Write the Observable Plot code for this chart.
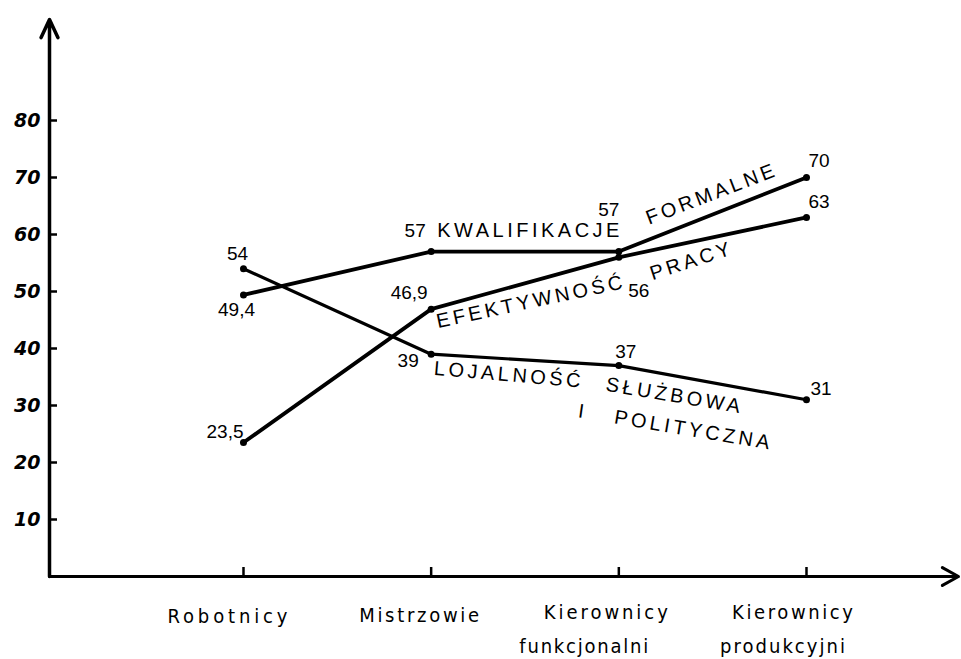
<!DOCTYPE html>
<html>
<head>
<meta charset="utf-8">
<script src="https://cdn.jsdelivr.net/npm/d3@7"></script>
<script src="https://cdn.jsdelivr.net/npm/@observablehq/plot@0.6"></script>
<style>
  html, body { margin: 0; padding: 0; background: #fff; }
  svg { display: block; }
</style>
</head>
<body>
<script>
// ---------- data ----------
const categoriesLine1 = ["Robotnicy", "Mistrzowie", "Kierownicy", "Kierownicy"];
const categoriesLine2 = ["", "", "funkcjonalni", "produkcyjni"];
const kwalifikacje = [49.4, 57, 57, 70];   // KWALIFIKACJE FORMALNE
const efektywnosc  = [23.5, 46.9, 56, 63]; // EFEKTYWNOŚĆ PRACY
const lojalnosc    = [54, 39, 37, 31];     // LOJALNOŚĆ SŁUŻBOWA I POLITYCZNA
const yTicks = [10, 20, 30, 40, 50, 60, 70, 80];

// ---------- layout / style (not data) ----------
const W = 961, H = 659;
const xDomain = [-1.0337, 3.81], xRange = [49, 958];
const yDomain = [0, 100], yRange = [576, 6];
const pxPerX = (xRange[1] - xRange[0]) / (xDomain[1] - xDomain[0]);
const pxPerY = (yRange[0] - yRange[1]) / (yDomain[1] - yDomain[0]);
const axisX = xDomain[0];

const series = [
  {key: "kwal", values: kwalifikacje, width: 3.8,
   offsets: [{dx: -7, dy: 15, a: "middle"}, {dx: -16, dy: -21, a: "middle"}, {dx: -10, dy: -42, a: "middle"}, {dx: 2, dy: -17, a: "start"}]},
  {key: "efek", values: efektywnosc, width: 3.8,
   offsets: [{dx: 0, dy: -11, a: "end"}, {dx: -22, dy: -16, a: "middle"}, {dx: 20, dy: 34, a: "middle"}, {dx: 2, dy: -15, a: "start"}]},
  {key: "loj", values: lojalnosc, width: 3.2,
   offsets: [{dx: -6, dy: -15, a: "middle"}, {dx: -23, dy: 7, a: "middle"}, {dx: 7, dy: -14, a: "middle"}, {dx: 4, dy: -11, a: "start"}]}
];
const byKey = Object.fromEntries(series.map(s => [s.key, s.values]));

const seriesLabels = [
  {text: "KWALIFIKACJE", key: "kwal", seg: 1, t: 0.527, dy: -21, rotate: 0},
  {text: "FORMALNE",     key: "kwal", seg: 2, t: 0.495, dy: -21, rotate: -21},
  {text: "EFEKTYWNOŚĆ",  key: "efek", seg: 1, t: 0.532, dy: 20,  rotate: -12},
  {text: "PRACY",        key: "efek", seg: 2, t: 0.388, dy: 19,  rotate: -18},
  {text: "LOJALNOŚĆ",    key: "loj",  seg: 1, t: 0.415, dy: 16,  rotate: 5},
  {text: "SŁUŻBOWA",     key: "loj",  seg: 2, t: 0.298, dy: 20,  rotate: 9.5},
  {text: "I",            key: "loj",  seg: 1, t: 0.809, dy: 48,  rotate: 8},
  {text: "POLITYCZNA",   key: "loj",  seg: 2, t: 0.399, dy: 51,  rotate: 9.5}
].map(d => {
  const v = byKey[d.key];
  return {...d, x: d.seg + d.t, y: v[d.seg] + d.t * (v[d.seg + 1] - v[d.seg])};
});

// category label placement: offsets and rendered widths (px)
const catStyle1 = [{dx: -16, dy: 40, w: 120}, {dx: -12, dy: 39, w: 120}, {dx: -13, dy: 36, w: 124}, {dx: -14, dy: 36, w: 121}];
const catStyle2 = [null, null, {dx: -35, dy: 70, w: 129}, {dx: -24, dy: 70, w: 125}];

const fmt = v => String(v).replace(".", ",");
const FONT = "'Liberation Sans', Arial, sans-serif";
const NARROW = "'DejaVu Sans Condensed', 'DejaVu Sans', sans-serif";

const marks = [];

// axes
marks.push(Plot.arrow([{x1: axisX, y1: 0, x2: axisX, y2: 97.7}],
  {x1: "x1", y1: "y1", x2: "x2", y2: "y2", stroke: "black", strokeWidth: 3.5, headLength: 8.5, headAngle: 50}));
marks.push(Plot.arrow([{x1: axisX, y1: 0, x2: xDomain[1], y2: 0}],
  {x1: "x1", y1: "y1", x2: "x2", y2: "y2", stroke: "black", strokeWidth: 3, headLength: 9.2, headAngle: 58}));
marks.push(Plot.ruleY(yTicks, {y: d => d, x1: axisX, x2: axisX + 8 / pxPerX, stroke: "black", strokeWidth: 2.5}));
marks.push(Plot.ruleX(d3.range(categoriesLine1.length), {x: d => d, y1: 0, y2: 9 / pxPerY, stroke: "black", strokeWidth: 2.5}));
marks.push(Plot.text(yTicks, {x: axisX, y: d => d, text: d => String(d), dx: -9, textAnchor: "end",
  fontSize: 19, fontStyle: "italic", fontWeight: "bold", fontFamily: "'DejaVu Sans', sans-serif", fill: "black"}));

// category labels
const catWidths = new Map();
categoriesLine1.forEach((c, i) => {
  const s1 = catStyle1[i];
  marks.push(Plot.text([c], {x: i, y: 0, text: d => d, dx: s1.dx, dy: s1.dy,
    fontSize: 20, fontFamily: NARROW, fill: "black", title: () => "cat:" + s1.w}));
  if (categoriesLine2[i]) {
    const s2 = catStyle2[i];
    marks.push(Plot.text([categoriesLine2[i]], {x: i, y: 0, text: d => d, dx: s2.dx, dy: s2.dy,
      fontSize: 20, fontFamily: NARROW, fill: "black", title: () => "cat:" + s2.w}));
  }
});

// lines, dots, value labels
series.forEach(s => {
  const rows = s.values.map((v, i) => ({i, v}));
  marks.push(Plot.line(rows, {x: "i", y: "v", stroke: "black", strokeWidth: s.width, strokeLinejoin: "round", strokeLinecap: "round"}));
  marks.push(Plot.dot(rows, {x: "i", y: "v", r: 3.5, fill: "black"}));
  rows.forEach((r, i) => {
    const o = s.offsets[i];
    marks.push(Plot.text([r], {x: "i", y: "v", text: d => fmt(d.v), dx: o.dx, dy: o.dy, textAnchor: o.a,
      fontSize: 19, fontFamily: FONT, fill: "black"}));
  });
});

// series labels
seriesLabels.forEach(l => {
  marks.push(Plot.text([l], {x: "x", y: "y", text: "text", dy: l.dy, rotate: l.rotate,
    fontSize: 20, fontFamily: FONT, fill: "black"}));
});

const svg = Plot.plot({
  width: W, height: H,
  marginLeft: 49, marginRight: 3, marginTop: 6, marginBottom: 83,
  x: {domain: xDomain, range: xRange, axis: null},
  y: {domain: yDomain, range: yRange, axis: null},
  style: {background: "white", fontFamily: FONT},
  marks
});

const seriesSet = new Set(seriesLabels.map(d => d.text));
d3.select(svg).selectAll("text")
  .filter(function () { return seriesSet.has(this.textContent); })
  .style("letter-spacing", "3.5px");
// category labels: stretch letter spacing to the measured width, drop helper titles
d3.select(svg).selectAll("text").each(function () {
  const t = this.querySelector("title");
  if (t && t.textContent.startsWith("cat:")) {
    const w = +t.textContent.slice(4);
    t.remove();
    this.setAttribute("textLength", w);
    this.setAttribute("lengthAdjust", "spacing");
  }
});
document.body.append(svg);
</script>
</body>
</html>
